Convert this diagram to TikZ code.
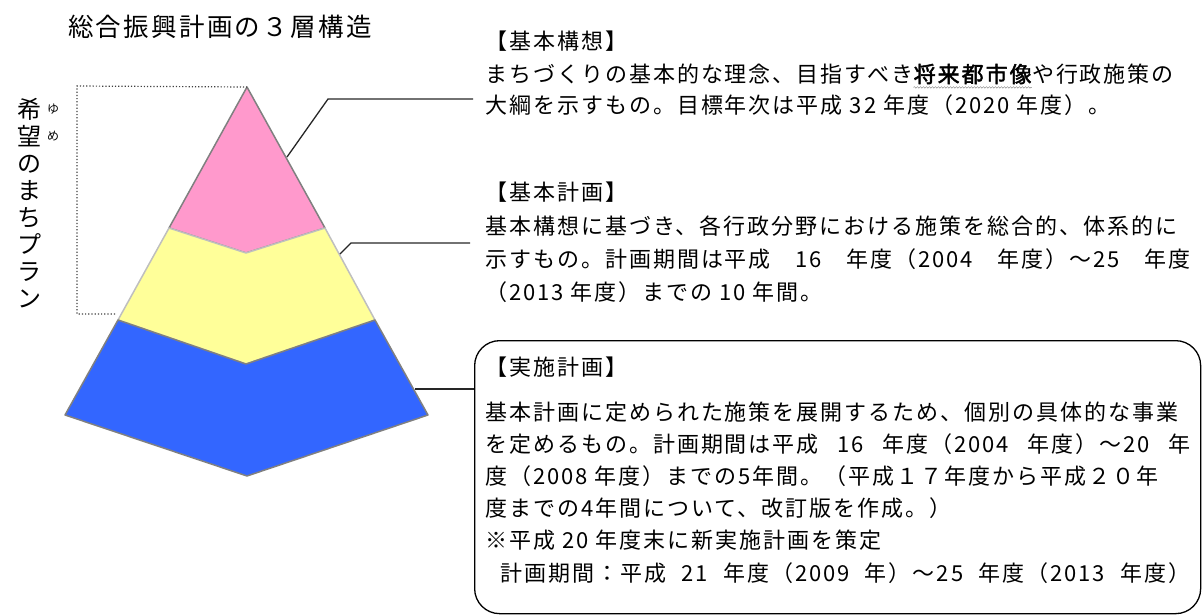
\documentclass[tikz,border=0pt]{standalone}
\usepackage{fontspec}
\newfontfamily\jp[AutoFakeBold=2]{Noto Sans CJK JP}
\newfontfamily\jpsp[LetterSpace=9,AutoFakeBold=2]{Noto Sans CJK JP}
\usetikzlibrary{positioning,decorations.pathmorphing}
\definecolor{pinklayer}{HTML}{FF99CC}
\definecolor{yellowlayer}{HTML}{FFFF99}
\definecolor{bluelayer}{HTML}{3366FF}

\tikzset{
  layer/.style={line width=1.5pt, line join=round},
  leader/.style={draw=black!85, line width=1.3pt},
  txt/.style={anchor=west, inner sep=0pt, font=\jpsp\fontsize{22}{26}\selectfont},
}

\begin{document}
\begin{tikzpicture}[x=1pt, y=-1pt]
 \useasboundingbox (0,0) rectangle (1202,614);
 % the three layers
 \coordinate (apex) at (247,87);
 \coordinate (pl) at (169,228); \coordinate (pn) at (246,253); \coordinate (pr) at (325,228);
 \coordinate (yl) at (118,320); \coordinate (yn) at (246,364); \coordinate (yr) at (375,320);
 \coordinate (bl) at (65,415);  \coordinate (bn) at (247,476); \coordinate (br) at (428,415);
 \filldraw[layer, fill=pinklayer, draw=gray] (apex) -- (pl) -- (pn) -- (pr) -- cycle;
 \filldraw[layer, fill=yellowlayer, draw=black!25] (pl) -- (pn) -- (pr) -- (yr) -- (yn) -- (yl) -- cycle;
 \filldraw[layer, fill=bluelayer, draw=gray] (yl) -- (yn) -- (yr) -- (br) -- (bn) -- (bl) -- cycle;
 \draw[dotted, line width=1.2pt, black!75] (115,314) -- (77,314) -- (77,86) -- (apex);

 \node (title) [anchor=west, inner sep=0pt, font=\jpsp\fontsize{25.5}{30}\selectfont] at (68,27) {総合振興計画の３層構造};
 \node (plan) [anchor=north, inner sep=0pt, align=center, font=\jp\fontsize{24}{27}\selectfont] at (29,98)
   {希\\望\\の\\ま\\ち\\プ\\ラ\\ン};
 \node (yu) [inner sep=0pt, font=\jp\fontsize{12}{12}\selectfont] at (53,109) {ゆ};
 \node (me) [inner sep=0pt, font=\jp\fontsize{12}{12}\selectfont] at (53,136) {め};

 % 基本構想
 \node (kousou) [txt] at (485,41) {【基本構想】};
 \node (kousou-1a) [txt] at (485,74) {まちづくりの基本的な理念、目指すべき};
 \node (vision) [txt, anchor=base west] at (kousou-1a.base east) {\bfseries 将来都市像};
 \node (kousou-1c) [txt, anchor=base west] at (vision.base east) {や行政施策の};
 \node (kousou-2) [txt] at (485,105) {大綱を示すもの。目標年次は平成 32 年度（2020 年度）。};
 \draw[gray, decorate, decoration={snake, amplitude=0.8pt, segment length=3pt}]
   ([yshift=-5pt]vision.base west) -- ([yshift=-5pt]vision.base east);

 % 基本計画
 \node (keikaku) [txt] at (485,192) {【基本計画】};
 \foreach \t/\w [count=\i] in {基本構想に基づき、各行政分野における施策を総合的、体系的に/s,
   示すもの。計画期間は平成 16 年度（2004 年度）～25 年度/s,
   （2013 年度）までの 10 年間。/l}
   \node (keikaku-\i) [txt] at (485,{193+33*\i}) {\makebox[705pt][\w]{\t}};

 % 実施計画
 \node (jbox) [draw, line width=1.3pt, rounded corners=25pt, minimum width=726pt,
   minimum height=273pt, anchor=north west, inner sep=0pt] at (474,340) {};
 \node (jisshi) [txt] at (485,367) {【実施計画】};
 \foreach \t/\w [count=\i] in {基本計画に定められた施策を展開するため、個別の具体的な事業/s,
   を定めるもの。計画期間は平成 16 年度（2004 年度）～20 年/s,
   度（2008 年度）までの5年間。（平成１７年度から平成２０年/l,
   度までの4年間について、改訂版を作成。）/l,
   ※平成 20 年度末に新実施計画を策定/l,
   \hspace{0.7em}計画期間：平成 21 年度（2009 年）～25 年度（2013 年度）/s}
   \node (jisshi-\i) [txt] at (485,{379.5+32.2*\i}) {\makebox[705pt][\w]{\t}};

 % leaders
 \coordinate (k1) at (287,157); \coordinate (k1e) at (328,99); \coordinate (k1t) at (473,99);
 \coordinate (k2) at (340,254); \coordinate (k2e) at (351,243); \coordinate (k2t) at (470,243);
 \coordinate (k3) at (415,389);
 \draw[leader] (k1) -- (k1e) -- (k1t);
 \draw[leader] (k2) -- (k2e) -- (k2t);
 \draw[leader] (k3) -- (jbox.west |- k3);
\end{tikzpicture}
\end{document}
